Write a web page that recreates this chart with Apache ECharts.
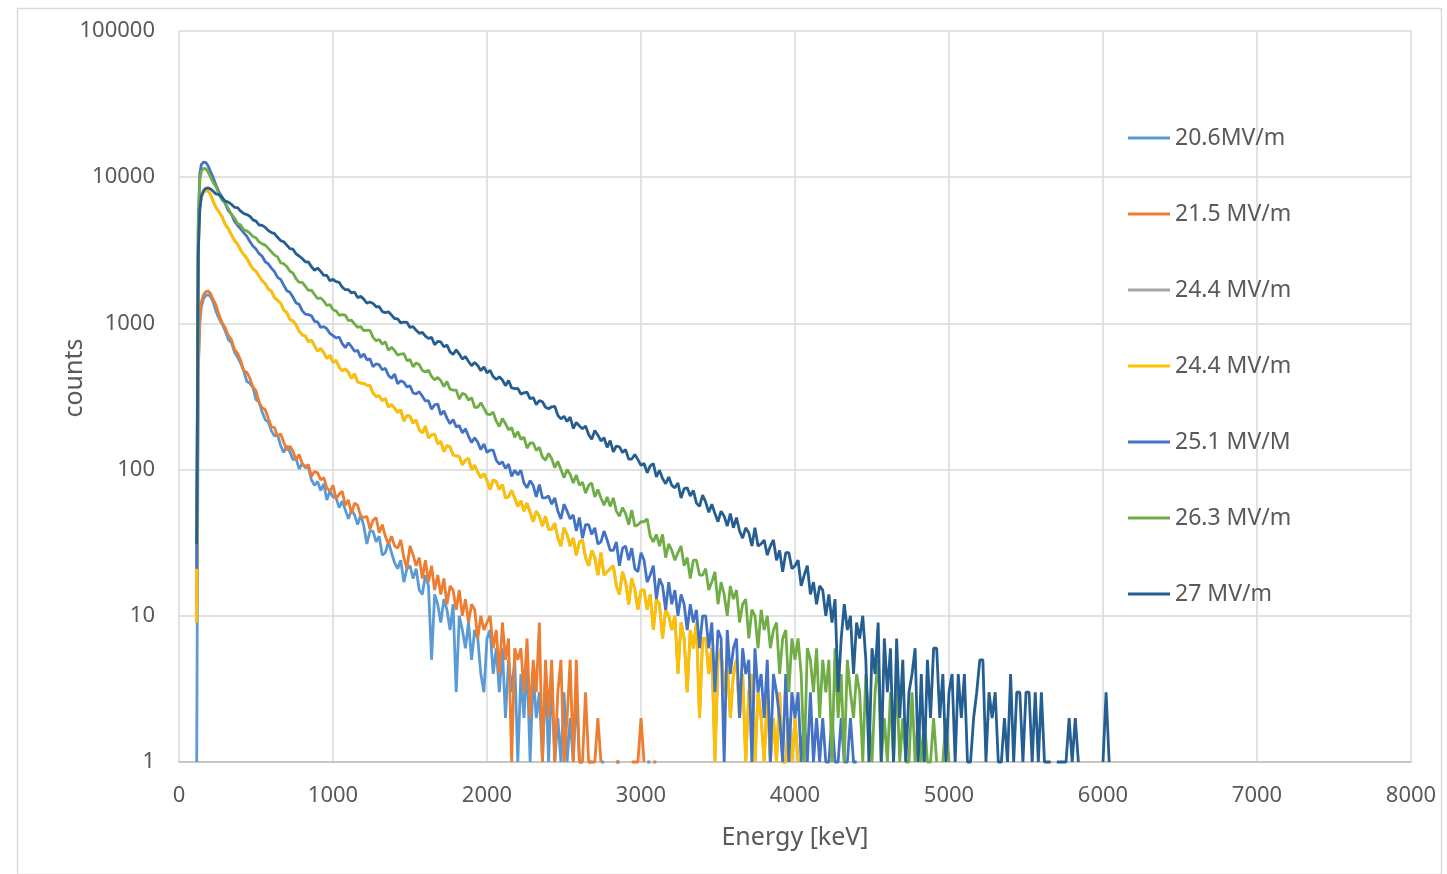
<!DOCTYPE html>
<html><head><meta charset="utf-8">
<script src="https://cdn.jsdelivr.net/npm/echarts@6/dist/echarts.min.js"></script>
<style>html,body{margin:0;padding:0;background:#fff}#c{width:1447px;height:874px}</style>
</head><body><div id="c"></div>
<script>
// Bin energies (keV)
const energy = [115,125,135,145,160,175,190,205,
220,240,260,280,300,320,340,360,380,400,
420,440,460,480,500,520,540,560,580,600,
620,640,660,680,700,720,740,760,780,800,
820,840,860,880,900,920,940,960,980,1000,
1020,1040,1060,1080,1100,1120,1140,1160,1180,1200,
1220,1240,1260,1280,1300,1320,1340,1360,1380,1400,
1420,1440,1460,1480,1500,1520,1540,1560,1580,1600,
1620,1640,1660,1680,1700,1720,1740,1760,1780,1800,
1820,1840,1860,1880,1900,1920,1940,1960,1980,2000,
2020,2040,2060,2080,2100,2120,2140,2160,2180,2200,
2220,2240,2260,2280,2300,2320,2340,2360,2380,2400,
2420,2440,2460,2480,2500,2520,2540,2560,2580,2600,
2620,2640,2660,2680,2700,2720,2740,2760,2780,2800,
2820,2840,2860,2880,2900,2920,2940,2960,2980,3000,
3020,3040,3060,3080,3100,3120,3140,3160,3180,3200,
3220,3240,3260,3280,3300,3320,3340,3360,3380,3400,
3420,3440,3460,3480,3500,3520,3540,3560,3580,3600,
3620,3640,3660,3680,3700,3720,3740,3760,3780,3800,
3820,3840,3860,3880,3900,3920,3940,3960,3980,4000,
4020,4040,4060,4080,4100,4120,4140,4160,4180,4200,
4220,4240,4260,4280,4300,4320,4340,4360,4380,4400,
4420,4440,4460,4480,4500,4520,4540,4560,4580,4600,
4620,4640,4660,4680,4700,4720,4740,4760,4780,4800,
4820,4840,4860,4880,4900,4920,4940,4960,4980,5000,
5020,5040,5060,5080,5100,5120,5140,5160,5180,5200,
5220,5240,5260,5280,5300,5320,5340,5360,5380,5400,
5420,5440,5460,5480,5500,5520,5540,5560,5580,5600,
5620,5640,5660,5680,5700,5720,5740,5760,5780,5800,
5820,5840,5860,5880,5900,5920,5940,5960,5980,6000,
6020,6040];

// counts per series (null = empty bin)
const s206 = [1,450,1000,1300,1480,1560,1570,1520,
1415,1213,1078,990,889,775,742,640,587,535,
475,402,389,365,301,290,248,219,212,184,
170,173,146,131,145,132,117,119,101,110,
103,104,85,78,83,72,80,62,71,65,
64,55,61,53,46,53,49,42,49,41,
31,38,38,32,35,26,27,32,27,23,
21,24,17,21,22,18,21,15,14,19,
16,5,14,12,9,13,11,8,12,3,
10,8,6,9,5,8,7,4,3,7,
8,4,6,3,6,2,5,3,5,1,
4,2,5,1,4,2,3,1,4,1,
4,1,2,1,3,1,2,1,3,1,
1,null,1,1,null,null,1,1,null,null,
null,1,1,null,null,null,null,null,null,null,
null,1,1];

const s215 = [12,500,1100,1400,1580,1650,1660,1600,
1470,1340,1140,1010,935,827,775,665,626,560,
475,464,422,366,346,288,265,257,224,196,
194,169,176,154,136,145,133,117,127,110,
105,108,90,97,95,85,88,75,71,78,
63,68,71,57,62,50,59,57,48,47,
48,39,45,47,37,42,35,31,35,30,
29,33,25,21,30,26,22,25,18,24,
17,22,15,19,14,18,12,16,15,11,
15,10,13,9,12,11,7,10,8,9,
10,6,8,4,9,5,7,1,6,5,
6,3,7,2,5,3,9,1,5,2,
5,1,3,5,1,2,5,1,5,1,
1,3,1,1,1,2,1,null,null,null,
null,1,1,null,null,null,1,1,1,2,
1,null,null,1,1];

const s244 = [9,3200,6200,7300,7900,8100,8050,7600,
6920,6200,5780,5340,4760,4450,4040,3700,3480,3180,
2960,2790,2550,2360,2270,2110,1960,1870,1715,1660,
1502,1441,1375,1235,1184,1063,1040,977,887,834,
820,748,769,702,646,672,631,576,604,540,
558,502,473,489,463,420,452,398,391,389,
378,375,334,316,320,296,306,267,278,263,
246,256,215,234,232,208,218,187,178,198,
165,172,175,150,156,133,146,143,126,124,
123,108,116,119,100,107,96,88,94,84,
73,85,83,73,79,64,65,72,64,56,
61,52,59,51,44,52,48,41,48,39,
39,43,34,30,40,36,30,34,26,32,
33,25,22,28,25,19,27,19,20,21,
22,16,14,20,17,12,18,15,11,15,
15,11,14,8,13,12,7,11,10,8,
10,4,9,7,3,8,6,9,2,7,
7,4,6,1,5,6,3,5,2,4,
5,2,4,1,3,4,1,3,2,1,
3,1,2,1,3,1,1,2,1,2,
1];

const s251 = [21,5000,10500,12200,12700,12600,11900,10900,
10050,8850,7900,7320,6620,5910,5600,5000,4690,4430,
4170,3950,3630,3380,3230,3000,2880,2640,2550,2390,
2260,2063,1999,1826,1674,1631,1512,1380,1351,1222,
1158,1147,1128,1034,1024,937,951,920,853,825,
795,807,728,682,737,693,644,654,583,618,
563,572,505,529,522,481,494,440,421,451,
386,405,396,368,374,334,329,341,318,295,
296,259,277,281,237,252,225,206,220,196,
200,178,190,169,153,165,154,137,150,131,
136,136,116,109,113,102,109,90,99,92,
99,81,75,84,78,65,79,64,64,66,
58,64,52,46,58,52,46,49,38,47,
34,42,42,36,40,31,32,38,33,28,
28,32,22,29,30,24,29,21,20,27,
24,17,19,22,13,18,16,11,17,12,
15,10,14,12,8,12,9,11,6,10,
10,6,9,3,8,7,1,8,4,6,
7,2,6,4,5,1,6,3,4,2,
5,1,4,3,2,1,4,1,3,2,
3,1,2,1,3,1,2,1,2,1,
1,2,1,1,2,1,1,2,1,1];

const s263 = [40,4500,9500,11000,11500,11400,10800,10000,
9270,8600,7680,6970,6650,6090,5570,5270,4830,4710,
4370,4300,4140,3930,3850,3610,3500,3430,3260,3090,
2930,2850,2590,2560,2450,2270,2210,2020,1910,1910,
1800,1680,1690,1575,1480,1495,1420,1325,1345,1240,
1217,1136,1148,1138,1044,1054,990,941,950,892,
900,897,803,761,776,721,748,654,687,652,
606,617,622,556,566,505,536,523,477,466,
479,433,411,427,406,370,400,355,350,350,
303,332,326,298,311,267,267,287,263,240,
238,247,214,197,224,206,187,194,166,182,
161,167,140,152,152,135,142,122,116,129,
119,103,114,100,88,100,93,81,92,78,
82,69,78,81,65,73,64,57,65,56,
64,52,48,55,50,42,53,41,42,44,
44,46,35,32,36,30,36,25,31,28,
24,27,30,22,25,18,24,24,19,19,
21,15,17,20,12,17,14,10,16,13,
15,9,12,13,7,11,10,6,11,8,
10,6,8,9,4,7,8,3,7,5,
7,4,1,6,5,3,6,2,5,3,
5,1,6,2,4,1,5,3,2,4,
3,1,4,2,1,3,5,1,2,1,
3,1,4,1,2,1,1,3,1,2,
1,2,1,1,2,1,null,1,2,1];

const s27 = [31,3000,6000,7400,8100,8400,8450,8300,
8050,7680,7590,7230,6850,6760,6520,6220,6190,5860,
5650,5550,5410,5110,5010,4710,4680,4540,4310,4190,
4110,3880,3680,3620,3430,3250,3220,2990,2890,2780,
2640,2630,2440,2310,2390,2270,2130,2130,1960,2000,
1930,1910,1770,1700,1700,1615,1635,1500,1530,1465,
1373,1400,1370,1300,1300,1204,1186,1200,1140,1080,
1075,1008,1022,1017,938,950,897,856,867,818,
789,805,714,754,747,691,712,639,614,659,
617,570,594,549,513,541,515,475,505,459,
478,433,413,431,410,375,407,362,358,359,
328,335,339,305,311,278,297,291,267,261,
269,271,235,222,232,213,229,191,210,199,
190,199,174,161,185,172,157,165,142,158,
132,145,143,131,137,118,118,127,117,107,
110,95,106,110,89,99,87,80,89,78,
75,81,64,74,75,66,72,59,56,67,
60,51,58,50,44,52,48,41,50,40,
47,38,34,40,37,30,40,30,31,33,
26,30,33,24,28,20,27,27,21,22,
24,16,19,22,14,17,12,16,15,10,
14,9,13,3,7,12,8,10,4,9,
7,10,5,1,6,4,9,1,7,3,
6,1,7,2,5,1,3,4,6,1,
4,1,5,2,6,6,2,4,1,3,
4,1,4,2,4,1,1,2,3,5,
5,1,3,2,3,1,1,2,1,4,
1,3,3,1,3,3,1,3,1,3,
1,1,1,null,1,1,1,1,2,1,
2,1,null,null,null,null,null,null,null,1,
3,1];

const legendLabels = ['20.6MV/m','21.5 MV/m','24.4 MV/m','24.4 MV/m','25.1 MV/M','26.3 MV/m','27 MV/m'];
const seriesColors = ['#5B9BD5','#ED7D31','#A5A5A5','#FFC000','#4472C4','#70AD47','#255E91'];
const seriesValues = [s206, s215, s244, s244, s251, s263, s27];
const xTicks = [0,1000,2000,3000,4000,5000,6000,7000,8000];
const yTicks = [1,10,100,1000,10000,100000];

const FONT = 'Noto Sans';
const TXT = '#595959';
const keys = legendLabels.map((_, i) => 'S' + i);

function toPairs(vals) {
  return vals.map((v, i) => [energy[i], v == null ? '-' : v]);
}

const chart = echarts.init(document.getElementById('c'), null, {renderer: 'canvas'});
chart.setOption({
  animation: false,
  backgroundColor: '#ffffff',
  textStyle: {fontFamily: FONT},
  grid: {left: 179, right: 36, top: 31, bottom: 112, containLabel: false},
  graphic: [
    {type: 'rect', left: 15, top: 6, shape: {width: 1424, height: 866}, style: {fill: 'none', stroke: '#d9d9d9', lineWidth: 1.5}, silent: true, z: -1},
    {type: 'text', x: 75, y: 378, rotation: Math.PI / 2,
     style: {text: 'counts', fontSize: 25, fontFamily: FONT, fill: TXT, align: 'center', verticalAlign: 'middle'}}
  ],
  legend: {
    orient: 'vertical', left: 1123, top: 121,
    icon: 'rect', itemWidth: 42, itemHeight: 3, itemGap: 52,
    textStyle: {fontSize: 23, color: TXT, fontFamily: FONT, lineHeight: 24},
    formatter: n => legendLabels[keys.indexOf(n)],
    data: keys
  },
  xAxis: {
    type: 'value', min: xTicks[0], max: xTicks[xTicks.length - 1], interval: 1000,
    axisLine: {show: true, lineStyle: {color: '#bfbfbf', width: 1.5}},
    axisTick: {show: false},
    splitLine: {show: true, lineStyle: {color: '#d9d9d9', width: 1.5}},
    axisLabel: {fontSize: 22, color: TXT, margin: 23, fontFamily: FONT, formatter: v => String(v)},
    name: 'Energy [keV]', nameLocation: 'middle', nameGap: 63,
    nameTextStyle: {fontSize: 25, color: TXT, fontFamily: FONT}
  },
  yAxis: {
    type: 'log', logBase: 10, min: yTicks[0], max: yTicks[yTicks.length - 1],
    axisLine: {show: false}, axisTick: {show: false},
    splitLine: {show: true, lineStyle: {color: '#d9d9d9', width: 1.5}},
    axisLabel: {fontSize: 22, color: TXT, margin: 24, fontFamily: FONT, formatter: v => String(Math.round(v))}
  },
  series: seriesValues.map((vals, i) => ({
    name: keys[i], type: 'line', data: toPairs(vals),
    showSymbol: false, symbol: 'none', clip: false, connectNulls: false,
    color: seriesColors[i],
    lineStyle: {color: seriesColors[i], width: 2.8},
    itemStyle: {color: seriesColors[i]},
    emphasis: {disabled: true}
  }))
});
</script>
</body></html>
